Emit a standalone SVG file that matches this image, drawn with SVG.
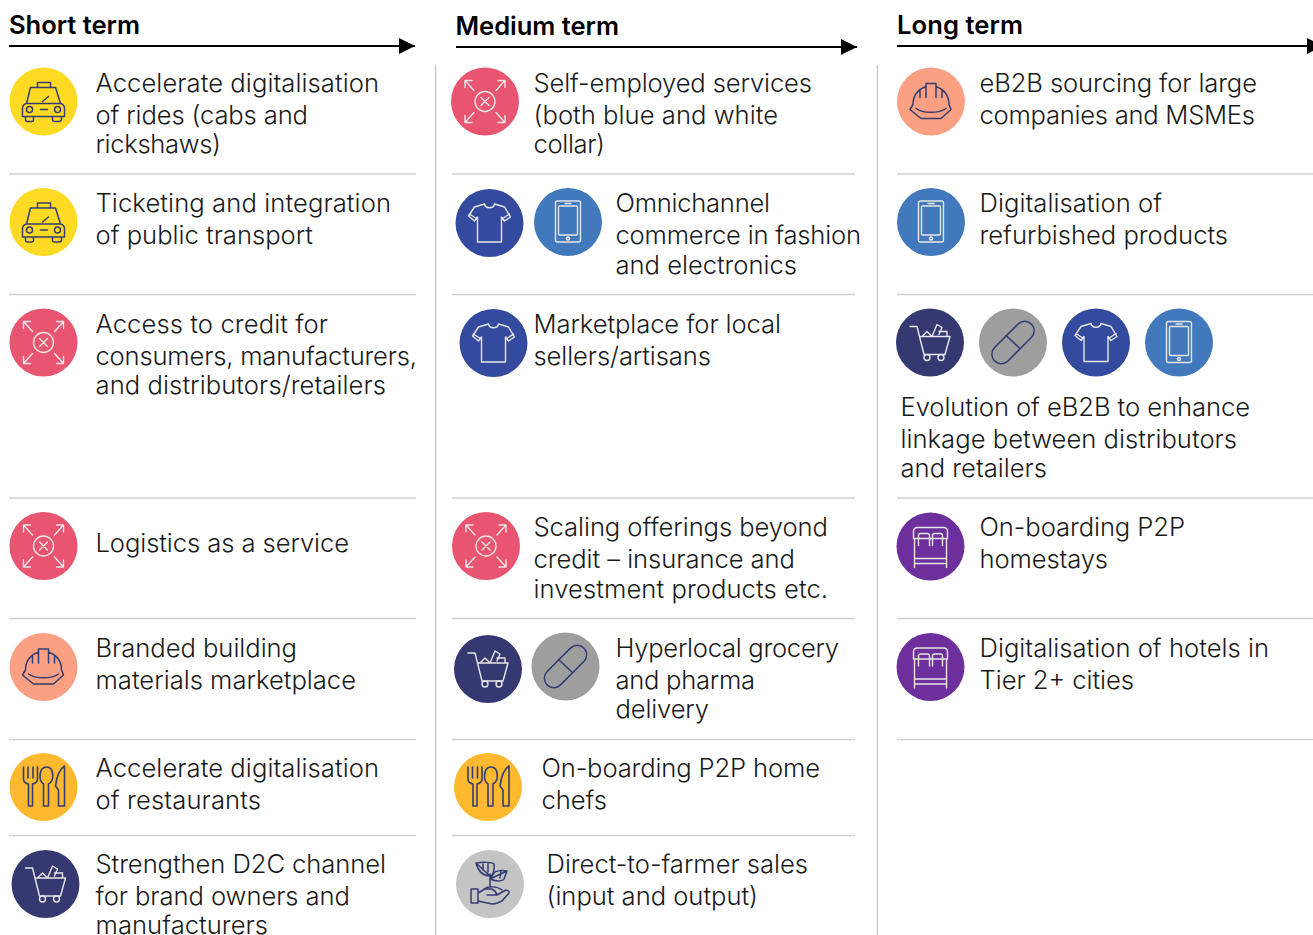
<svg xmlns="http://www.w3.org/2000/svg" width="1313" height="935" viewBox="0 0 1313 935">
<style>
text{font-family:Inter,"Liberation Sans",sans-serif;fill:#1a1a1a}
.b{font-weight:300;font-size:25.6px}
.h{font-weight:600;font-size:25.6px;fill:#000}
.r{stroke:#cfcfcf;stroke-width:1.3;fill:none}
.v{stroke:#c4c4c4;stroke-width:1.3;fill:none}
.a{stroke:#000;stroke-width:2;fill:none}
.d{fill:none;stroke:#343c72;stroke-width:1.5;stroke-linejoin:round;stroke-linecap:round}
.w{fill:none;stroke:#e6e6e6;stroke-width:1.4;stroke-linejoin:round;stroke-linecap:round}
</style>
<defs>
<marker id="ah" markerUnits="userSpaceOnUse" markerWidth="16" markerHeight="16" refX="16" refY="8" orient="auto"><path d="M0 0L16 8L0 16Z" fill="#000"/></marker>
<g id="taxi"><circle r="34" fill="#fedb22"/><g class="d"><path d="M-6-14V-19H7V-14M-13-14H12L17 2H-17ZM-17 2Q-21 3-21 7V15H21V7Q21 3 17 2M-1 0L5-5M-3 8H4M-18 15V18Q-18 20-16 20H-12Q-10 20-10 18V15M9 15V18Q9 20 11 20H15Q18 20 18 18V15"/><circle cx="-14" cy="8" r="3"/><circle cx="14" cy="8" r="3"/></g></g>
<g id="pink"><circle r="34" fill="#e95470"/><g class="w"><circle r="10"/><path d="M-4-4L4 4M4-4L-4 4M-20-21L-11-11M-20-21V-14M-20-21H-13M20-21L11-11M20-21V-14M20-21H13M-20 21L-11 11M-20 21V14M-20 21H-13M20 21L11 11M20 21V14M20 21H13"/></g></g>
<g id="helmet"><circle r="34" fill="#fba083"/><g class="d"><path d="M-5-15C-13-12-18-6-18 3M5-15C13-12 18-6 18 3M-5-4V-18H5V-4M-11-4V-11M11-4V-11M-18 3L-21 8L-10 17H10L20 8L18 3M-15 7C-8 12 8 12 15 7"/></g></g>
<g id="food"><circle r="34" fill="#feb92e"/><g class="d" style="stroke-width:1.6"><path d="M-20-20V-8Q-20-4-15-3V19H-11V-3Q-6-4-6-8V-20M-15.500-20V-9M-10.500-20V-9M0 19V-3C-5-6-5-20 3-20C11-20 11-6 5-3V19ZM21-21C15-17 13-9 12-1L15 3V19H21Z"/></g></g>
<g id="cart"><circle r="34" fill="#363872"/><g class="w"><path d="M-20-16H-13L-6 12H15L20-6H-10M-8-6L-3-11L2-6M2-6L7-18L12-15L9-8M9-11H17V-6"/><circle cx="-3" cy="15" r="3"/><circle cx="11" cy="15" r="3"/></g></g>
<g id="pill"><circle r="34" fill="#9e9e9e"/><g class="d"><rect x="-26" y="-9.500" width="52" height="19" rx="9.500" transform="rotate(-45)"/><path d="M-7-7L7 6"/></g></g>
<g id="shirt"><circle r="34" fill="#344a9e"/><g class="w"><path d="M-5-19C-4-14 4-14 5-19L15-16L21-6L15-2L12-6V19H-12V-6L-15-2L-21-7L-15-16ZM-20-9L-14-5M20-9L14-5"/></g></g>
<g id="phone"><circle r="34" fill="#4279bc"/><g class="w"><rect x="-12.500" y="-21" width="25" height="41" rx="2"/><rect x="-9.500" y="-16" width="19" height="29" rx="1"/><path d="M-3-18.500H3"/><circle cx="0" cy="16.500" r="1.500"/></g></g>
<g id="bed"><circle r="34" fill="#6c2f9c"/><g class="w"><path d="M-17-8V-15Q-17-19-13-19H13Q17-19 17-15V-8M-16-8H16V21M-16-8V21M-16 12H16M-16 17H16M-12-1V-11Q-12-13-10-13H-3Q-1-13-1-11V-1M2-1V-11Q2-13 4-13H10Q12-13 12-11V-1"/></g></g>
<g id="plant"><circle r="34" fill="#c4c4c4"/><g class="d"><path d="M-19 5H-12V19H-19ZM-12 9L-5 5H2Q6 7 7 11H-3M7 11L16 6Q20 7 19 9L12 17Q6 20 2 20L-12 17M-6 5C-2 2 7 2 12 6M0 2V-10M-14-21C-8-22 2-22 4-20C5-12 2-8 0-8C-8-8-12-14-14-21ZM-14-21L0-8M-7-20L-7-14M-2-21L-2-12M17-13C11-14 5-13 4-11C2-8 1-6 0-5C6-2 13-3 14-5C15-8 16-10 17-13ZM17-13L0-5M11-13L10-6"/></g></g>
</defs>

<g id="connectors">
<path class="a" d="M9 46H415" marker-end="url(#ah)"/>
<path class="a" d="M456 47H857" marker-end="url(#ah)"/>
<path class="a" d="M897 46H1323" marker-end="url(#ah)"/>
<path class="v" d="M435.500 65V935M877.500 65V935"/>
<path class="r" d="M9 174H416M9 294.500H416M9 498H416M9 618.500H416M9 739.500H416M9 835.500H416"/>
<path class="r" d="M452 174H855M452 294.500H855M452 498H855M452 618.500H855M452 739.500H855M452 835.500H855"/>
<path class="r" d="M897 174H1313M897 294.500H1313M897 498H1313M897 618.500H1313M897 739.500H1313"/>
</g>

<g id="headers">
<text class="h" x="9" y="34" textLength="131">Short term</text>
<text class="h" x="455.500" y="35" textLength="163.500">Medium term</text>
<text class="h" x="897" y="34" textLength="126">Long term</text>
</g>

<g id="s1"><use href="#taxi" x="43.500" y="101.500"/><text class="b" x="95.500" y="92" textLength="283.500">Accelerate digitalisation</text><text class="b" x="95.500" y="124" textLength="212.500">of rides (cabs and</text><text class="b" x="95.500" y="153" textLength="125.500">rickshaws)</text></g>
<g id="s2"><use href="#taxi" x="43.500" y="222"/><text class="b" x="95.500" y="212" textLength="295.500">Ticketing and integration</text><text class="b" x="95.500" y="244" textLength="217.500">of public transport</text></g>
<g id="s3"><use href="#pink" x="43.500" y="342.500"/><text class="b" x="95.500" y="333" textLength="232.500">Access to credit for</text><text class="b" x="95.500" y="365" textLength="321.500">consumers, manufacturers,</text><text class="b" x="95.500" y="394" textLength="290.500">and distributors/retailers</text></g>
<g id="s4"><use href="#pink" x="43.500" y="546"/><text class="b" x="95.500" y="552" textLength="253.500">Logistics as a service</text></g>
<g id="s5"><use href="#helmet" x="43.500" y="667"/><text class="b" x="95.500" y="657" textLength="201.500">Branded building</text><text class="b" x="95.500" y="689" textLength="260.500">materials marketplace</text></g>
<g id="s6"><use href="#food" x="43.500" y="787"/><text class="b" x="95.500" y="777" textLength="283.500">Accelerate digitalisation</text><text class="b" x="95.500" y="809" textLength="165.500">of restaurants</text></g>
<g id="s7"><use href="#cart" x="45.500" y="884"/><text class="b" x="95.500" y="873" textLength="290.500">Strengthen D2C channel</text><text class="b" x="95.500" y="905" textLength="254.500">for brand owners and</text><text class="b" x="95.500" y="934" textLength="172.500">manufacturers</text></g>

<g id="m1"><use href="#pink" x="485" y="101.500"/><text class="b" x="533.500" y="92" textLength="278.500">Self-employed services</text><text class="b" x="533.500" y="124" textLength="244.500">(both blue and white</text><text class="b" x="533.500" y="153" textLength="71.500">collar)</text></g>
<g id="m2"><use href="#shirt" x="489.500" y="223"/><use href="#phone" x="568" y="222"/><text class="b" x="615.500" y="212" textLength="154.500">Omnichannel</text><text class="b" x="615.500" y="244" textLength="245.500">commerce in fashion</text><text class="b" x="615.500" y="274" textLength="181.500">and electronics</text></g>
<g id="m3"><use href="#shirt" x="493.500" y="343"/><text class="b" x="533.500" y="333" textLength="247.500">Marketplace for local</text><text class="b" x="533.500" y="365" textLength="177.500">sellers/artisans</text></g>
<g id="m4"><use href="#pink" x="486" y="546"/><text class="b" x="533.500" y="536" textLength="294.500">Scaling offerings beyond</text><text class="b" x="533.500" y="568" textLength="261.500">credit – insurance and</text><text class="b" x="533.500" y="598" textLength="294.500">investment products etc.</text></g>
<g id="m5"><use href="#cart" x="488" y="669"/><use href="#pill" x="565.500" y="666.500"/><text class="b" x="615.500" y="657" textLength="223.500">Hyperlocal grocery</text><text class="b" x="615.500" y="689" textLength="139.500">and pharma</text><text class="b" x="615.500" y="718" textLength="93.500">delivery</text></g>
<g id="m6"><use href="#food" x="488" y="787"/><text class="b" x="541.500" y="777" textLength="278.500">On-boarding P2P home</text><text class="b" x="541.500" y="809" textLength="65.500">chefs</text></g>
<g id="m7"><use href="#plant" x="490" y="884"/><text class="b" x="546.500" y="873" textLength="261.500">Direct-to-farmer sales</text><text class="b" x="546.500" y="905" textLength="211.500">(input and output)</text></g>

<g id="l1"><use href="#helmet" x="931" y="101.500"/><text class="b" x="979.500" y="92" textLength="277.500">eB2B sourcing for large</text><text class="b" x="979.500" y="124" textLength="275.500">companies and MSMEs</text></g>
<g id="l2"><use href="#phone" x="931" y="222"/><text class="b" x="979.500" y="212" textLength="182.500">Digitalisation of</text><text class="b" x="979.500" y="244" textLength="248.500">refurbished products</text></g>
<g id="l3"><use href="#cart" x="930" y="342.500"/><use href="#pill" x="1013" y="342.500"/><use href="#shirt" x="1096" y="342.500"/><use href="#phone" x="1179" y="342.500"/><text class="b" x="900.500" y="416" textLength="349.500">Evolution of eB2B to enhance</text><text class="b" x="900.500" y="448" textLength="336.500">linkage between distributors</text><text class="b" x="900.500" y="477" textLength="146.500">and retailers</text></g>
<g id="l4"><use href="#bed" x="930.500" y="546.500"/><text class="b" x="979.500" y="536" textLength="205.500">On-boarding P2P</text><text class="b" x="979.500" y="568" textLength="128.500">homestays</text></g>
<g id="l5"><use href="#bed" x="930.500" y="667"/><text class="b" x="979.500" y="657" textLength="289.500">Digitalisation of hotels in</text><text class="b" x="979.500" y="689" textLength="154.500">Tier 2+ cities</text></g>
</svg>
